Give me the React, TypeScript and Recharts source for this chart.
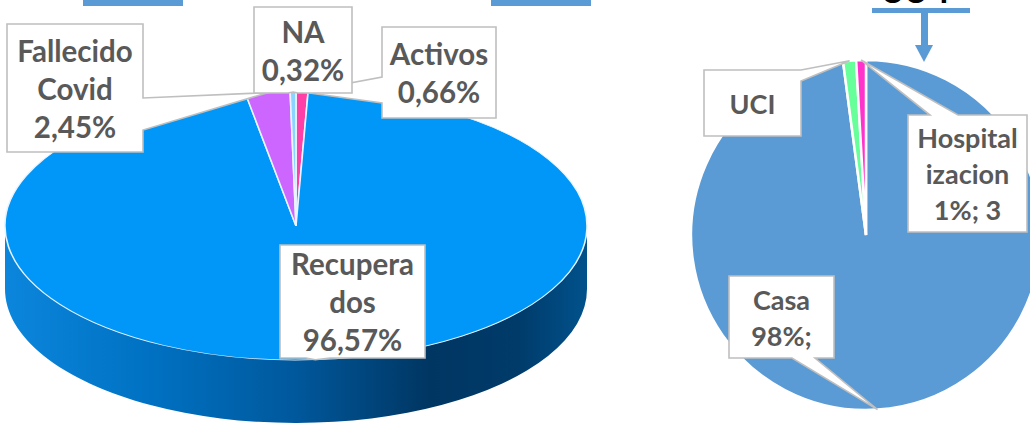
import React from 'react';
import { PieChart, Pie, Cell } from 'recharts';

// left chart: estado de los casos (%)
const leftNames = ['Activos', 'Recuperados', 'Fallecido Covid', 'NA'];
const leftValues = [0.66, 96.57, 2.45, 0.32];
const leftColors = ['#FF3FA8', '#0097F8', '#CC66FF', '#8AD4FF'];

// right chart: lugar de atencion (pacientes)
const rightNames = ['Casa', 'UCI', 'Hospitalizacion'];
const rightValues = [327, 4, 3];
const rightColors = ['#5B9BD5', '#66FF99', '#FF33CC'];
const rightTotal = 334;

const leftData = leftNames.map((name, i) => ({ name, value: leftValues[i] }));
const rightData = rightNames.map((name, i) => ({ name, value: rightValues[i] }));

// geometry of the tilted 3D pie
const RX = 291;
const RY = 134;
const K = RY / RX;
const LCX = 296;
const LCY = 226;
const DEPTH = 63;
const CY_U = LCY / K;
const CYB_U = (LCY + DEPTH) / K;

const RAD = Math.PI / 180;

// callout boxes: position, pointer edge, pointer base (a..b along the edge), text lines
const leftLayout = [
    { x: 382, y: 27, w: 114, h: 91, side: 'left', a: 50, b: 76, lines: ['Activos'] },
    { x: 280, y: 245, w: 145, h: 113, side: 'bottom', a: 26, b: 50, lines: ['Recupera', 'dos'] },
    { x: 7, y: 24, w: 136, h: 128, side: 'right', a: 74, b: 106, lines: ['Fallecido', 'Covid'] },
    { x: 254, y: 7, w: 98, h: 86, side: 'bottom', a: 34, b: 44, lines: ['NA'] },
];
const rightLayout = [
    { x: 729, y: 276, w: 105, h: 82, side: 'bottom', a: 63, b: 86, lines: ['Casa'], fmt: 'pct' },
    { x: 704, y: 70, w: 97, h: 66, side: 'right', a: 0, b: 11, lines: ['UCI'], fmt: 'none' },
    { x: 908, y: 115, w: 119, h: 117, side: 'top', a: 22, b: 50, lines: ['Hospital', 'izacion'], fmt: 'full' },
];

const calloutPath = (L: any, tx: number, ty: number) => {
    const { x, y, w, h, side, a, b } = L;
    const p: number[][] = [[x, y]];
    if (side === 'top') p.push([x + a, y], [tx, ty], [x + b, y]);
    p.push([x + w, y]);
    if (side === 'right') p.push([x + w, y + a], [tx, ty], [x + w, y + b]);
    p.push([x + w, y + h]);
    if (side === 'bottom') p.push([x + b, y + h], [tx, ty], [x + a, y + h]);
    p.push([x, y + h]);
    if (side === 'left') p.push([x, y + b], [tx, ty], [x, y + a]);
    return 'M' + p.map((q) => q.join(',')).join('L') + 'Z';
};

const Callout = ({ L, tx, ty, lines, fontSize, lh }: any) => {
    const mid = L.y + L.h / 2;
    return (
        <g>
            <path d={calloutPath(L, tx, ty)} fill="#fff" stroke="#BFBFBF" strokeWidth={1.6} strokeLinejoin="miter" />
            {lines.map((t: string, i: number) => (
                <text
                    key={i}
                    x={L.x + L.w / 2}
                    y={mid + (i - (lines.length - 1) / 2) * lh}
                    textAnchor="middle"
                    dominantBaseline="central"
                    fontFamily="Lato, 'Open Sans', sans-serif"
                    fontWeight={700}
                    fontSize={fontSize}
                    fill="#595959"
                >
                    {t}
                </text>
            ))}
        </g>
    );
};

const renderLeftLabel = (p: any) => {
    const L = leftLayout[p.index];
    const tx = p.cx + p.outerRadius * Math.cos(-p.midAngle * RAD);
    const ty = p.cy + p.outerRadius * K * Math.sin(-p.midAngle * RAD);
    const pct = leftValues[p.index].toFixed(2).replace('.', ',') + '%';
    return <Callout key={'l' + p.index} L={L} tx={tx} ty={ty} lines={[...L.lines, pct]} fontSize={29.5} lh={38} />;
};

const renderRightLabel = (p: any) => {
    const L = rightLayout[p.index];
    const tx = p.cx + p.outerRadius * Math.cos(-p.midAngle * RAD);
    const ty = p.cy + p.outerRadius * Math.sin(-p.midAngle * RAD);
    const v = rightValues[p.index];
    const pct = Math.round((v / rightTotal) * 100) + '%';
    let lines = [...L.lines];
    if (L.fmt === 'pct') lines.push(pct + ';');
    if (L.fmt === 'full') lines.push(pct + '; ' + v);
    return <Callout key={'r' + p.index} L={L} tx={tx} ty={ty} lines={lines} fontSize={27} lh={36} />;
};

export default function App() {
    return (
        <div style={{ position: 'fixed', left: 0, top: 0, width: 1030, height: 423, overflow: 'hidden', background: '#fff' }}>
            {/* 3D pie body, squashed to an ellipse */}
            <div style={{ position: 'absolute', left: 0, top: 0, transform: `scaleY(${K})`, transformOrigin: '0 0' }}>
                <PieChart width={600} height={940} margin={{ top: 0, right: 0, bottom: 0, left: 0 }}>
                    <defs>
                        <linearGradient id="sideGrad" x1="0" x2="1" y1="0" y2="0">
                            <stop offset="0" stopColor="#0B86DC" />
                            <stop offset="0.25" stopColor="#0071C2" />
                            <stop offset="0.5" stopColor="#00589C" />
                            <stop offset="0.73" stopColor="#003662" />
                            <stop offset="0.88" stopColor="#003B6A" />
                            <stop offset="1" stopColor="#00528C" />
                        </linearGradient>
                    </defs>
                    <rect x={LCX - RX} y={CY_U} width={RX * 2} height={CYB_U - CY_U} fill="url(#sideGrad)" />
                    <Pie
                        data={[{ name: 'side', value: 1 }]}
                        dataKey="value"
                        cx={LCX}
                        cy={CYB_U}
                        outerRadius={RX}
                        stroke="none"
                        fill="url(#sideGrad)"
                        isAnimationActive={false}
                    />
                    <Pie
                        data={leftData}
                        dataKey="value"
                        cx={LCX}
                        cy={CY_U}
                        outerRadius={RX}
                        startAngle={90}
                        endAngle={-270}
                        stroke="#E8F4FF"
                        strokeWidth={1.6}
                        isAnimationActive={false}
                    >
                        {leftData.map((d, i) => (
                            <Cell key={d.name} fill={leftColors[i]} />
                        ))}
                    </Pie>
                </PieChart>
            </div>

            {/* labels for the left pie + right pie */}
            <div style={{ position: 'absolute', left: 0, top: 0 }}>
                <PieChart width={1030} height={423} margin={{ top: 0, right: 0, bottom: 0, left: 0 }}>
                    <Pie
                        data={leftData}
                        dataKey="value"
                        cx={LCX}
                        cy={LCY}
                        outerRadius={RX}
                        startAngle={90}
                        endAngle={-270}
                        fill="none"
                        stroke="none"
                        label={renderLeftLabel}
                        labelLine={false}
                        isAnimationActive={false}
                    />
                    <Pie
                        data={rightData}
                        dataKey="value"
                        cx={866}
                        cy={235}
                        outerRadius={175}
                        startAngle={90}
                        endAngle={-270}
                        stroke="#fff"
                        strokeWidth={2.5}
                        label={renderRightLabel}
                        labelLine={false}
                        isAnimationActive={false}
                    >
                        {rightData.map((d, i) => (
                            <Cell key={d.name} fill={rightColors[i]} />
                        ))}
                    </Pie>
                </PieChart>
            </div>

            {/* cropped title boxes / total arrow above the charts */}
            <svg width={1030} height={70} style={{ position: 'absolute', left: 0, top: 0 }}>
                <rect x={83} y={0} width={100} height={6} fill="#5B9BD5" />
                <rect x={491} y={0} width={100} height={6} fill="#5B9BD5" />
                <text x={916} y={3} textAnchor="middle" fontFamily="Lato, sans-serif" fontWeight={700} fontSize={40} fill="#000">
                    334
                </text>
                <rect x={872} y={8} width={98} height={5} fill="#5B9BD5" />
                <rect x={921} y={13} width={7} height={33} fill="#5B9BD5" />
                <polygon points="915,45 933,45 924,62" fill="#5B9BD5" />
            </svg>
        </div>
    );
}
